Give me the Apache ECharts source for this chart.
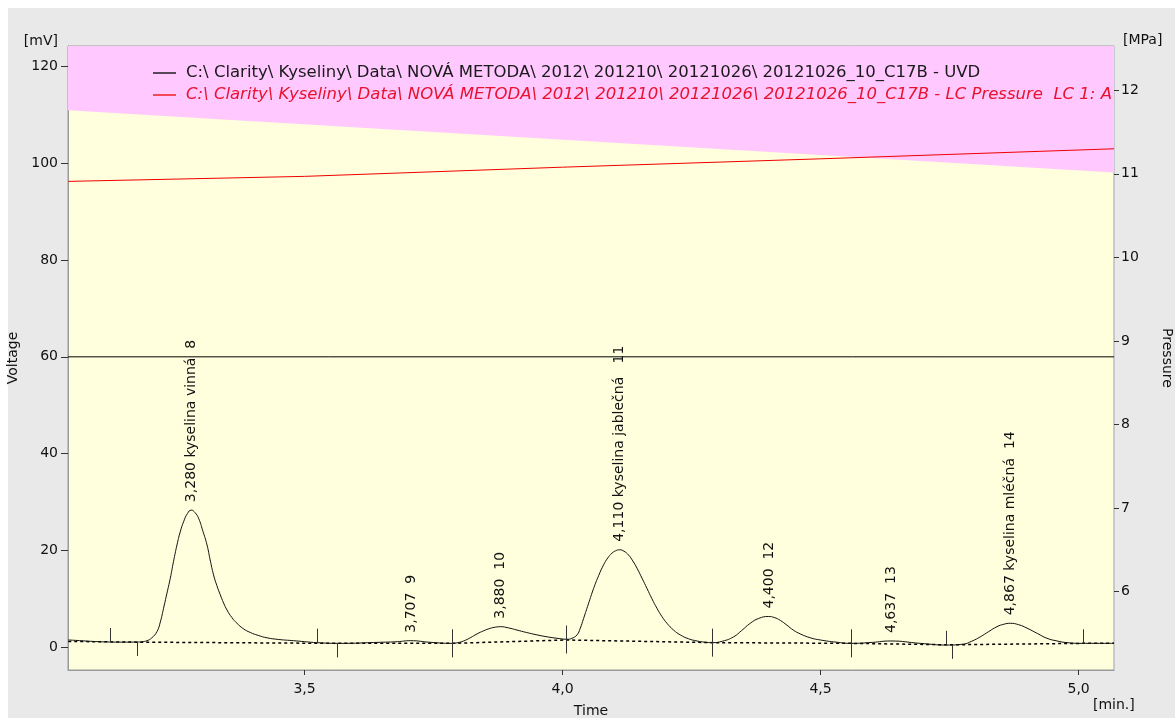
<!DOCTYPE html>
<html>
<head>
<meta charset="utf-8">
<script src="https://cdn.jsdelivr.net/npm/echarts@6/dist/echarts.min.js"></script>
<style>
html,body{margin:0;padding:0;background:#fff;}
#chart{width:1175px;height:718px;background:linear-gradient(#E9E9E9,#E9E9E9) 8px 8px / 1167px 710px no-repeat,#fff;}
</style>
</head>
<body>
<div id="chart"></div>
<script>
// ---- data ----
const uvdName = 'C:\\ Clarity\\ Kyseliny\\ Data\\ NOVÁ METODA\\ 2012\\ 201210\\ 20121026\\ 20121026_10_C17B - UVD';
const pressureName = 'C:\\ Clarity\\ Kyseliny\\ Data\\ NOVÁ METODA\\ 2012\\ 201210\\ 20121026\\ 20121026_10_C17B - LC Pressure  LC 1: A';

const timeRange = [3.0415, 5.0686];
const voltageRange = [-4.76, 124.28];
const pressureRange = [5.063, 12.53];

const xTicks = [3.5, 4.0, 4.5, 5.0];
const voltageTicks = [0, 20, 40, 60, 80, 100, 120];
const pressureTicks = [6, 7, 8, 9, 10, 11, 12];

const uvdTimes = [3.042,3.059,3.09,3.122,3.15,3.1752,3.185,3.1946,3.204,3.214,3.2205,3.2267,3.233,3.2397,3.246,3.2527,3.259,3.2655,3.273,3.2804,3.2875,3.2946,3.3025,3.3109,3.317,3.3236,3.33,3.3366,3.343,3.3496,3.359,3.369,3.381,3.3948,3.41,3.4271,3.45,3.4787,3.50,3.524,3.5653,3.6467,3.68,3.7048,3.7436,3.7857,3.797,3.8081,3.821,3.8341,3.847,3.8599,3.87,3.8793,3.895,3.9116,3.93,3.9504,3.97,3.9891,4.0085,4.018,4.0279,4.034,4.0407,4.05,4.0601,4.07,4.0795,4.0875,4.0957,4.103,4.1105,4.119,4.1279,4.136,4.1442,4.154,4.1636,4.173,4.1829,4.1925,4.2023,4.215,4.2281,4.244,4.2605,4.275,4.2895,4.31,4.3314,4.347,4.3637,4.38,4.3992,4.41,4.4219,4.4349,4.447,4.4607,4.48,4.4994,4.53,4.5595,4.60,4.6351,4.6932,4.745,4.7771,4.793,4.8095,4.826,4.8418,4.855,4.8676,4.884,4.90,4.92,4.9387,4.958,4.9775,5.0078,5.0686];
const uvdValues = [1.45,1.35,1.15,1.03,1.0,1.03,1.1,1.3,1.9,3.2,5.2,8.0,11.0,14.2,17.7,21.1,23.8,25.9,27.6,28.3,27.8,26.6,24.1,21.1,18.0,14.9,12.7,10.8,9.1,7.65,6.1,4.9,3.8,3.0,2.4,1.9,1.55,1.3,1.1,0.9,0.75,0.97,1.1,1.3,0.97,0.75,0.9,1.24,1.9,2.7,3.35,3.86,4.1,4.2,3.95,3.5,3.0,2.5,2.1,1.8,1.6,1.8,2.5,3.8,5.9,8.9,12.1,14.8,17.0,18.4,19.4,19.9,20.1,19.8,19.0,17.8,16.3,14.2,12.1,10.0,8.0,6.3,4.9,3.5,2.5,1.7,1.24,1.0,0.9,1.2,2.1,3.4,4.9,5.9,6.3,6.1,5.5,4.5,3.5,2.7,1.9,1.45,1.0,0.75,0.95,1.24,0.75,0.4,0.6,1.2,2.1,3.2,4.2,4.7,4.9,4.6,3.9,2.8,1.8,1.25,0.9,0.75,0.75];

const baselineTimes = [3.042,3.175,3.56,3.786,4.007,4.29,4.56,4.75,5.008,5.0686];
const baselineValues = [1.15,1.0,0.75,0.75,1.45,0.9,0.75,0.45,0.75,0.75];

const pressureTimes = [3.042,3.5,4.0,4.5,5.0686];
const pressureValues = [10.91,10.97,11.08,11.18,11.30];

const limitTimes = [3.0415,5.0686];
const limitValues = [111.0,98.1];

const refLineTimes = [3.0415,5.0686];
const refLineValues = [60,60];

const peakTimes = [3.280,3.707,3.880,4.110,4.400,4.637,4.867];
const peakHeights = [28.3,1.3,4.2,20.1,6.3,1.24,4.9];
const peakLabels = ['3,280 kyselina vinná  8','3,707  9','3,880  10','4,110 kyselina jablečná   11','4,400  12','4,637  13','4,867 kyselina mléčná  14'];

const markTimes = [3.122,3.1752,3.524,3.5628,3.7857,4.0066,4.2895,4.5595,4.7436,4.7539,5.0078];
const markLevels = [1.03,1.03,0.9,0.75,0.75,1.55,0.9,0.75,0.45,0.45,0.75];
const markDirs = [1,-1,1,-1,0,0,0,0,1,-1,1];

// ---- build ----
const zip = (a,b) => a.map((v,i)=>[v,b[i]]);
const FONT = "'DejaVu Sans', 'Noto Sans', sans-serif";
const comma = v => String(Number(v).toFixed(1)).replace('.', ',');

const chart = echarts.init(document.getElementById('chart'), null, {renderer:'canvas'});
chart.setOption({
  animation:false,
  backgroundColor:'transparent',
  textStyle:{fontFamily:FONT},
  grid:{left:68,right:61,top:46,bottom:48,outerBoundsMode:'none',containLabel:false,show:true,backgroundColor:'#FFFFDD',borderColor:'#9a9a9a',borderWidth:1},
  legend:{
    orient:'vertical',left:153,top:62,padding:0,itemGap:0,itemWidth:23,itemHeight:1.3,icon:'rect',
    selectedMode:false,
    textStyle:{fontFamily:FONT,fontSize:16.5,lineHeight:22,padding:[0,0,0,5]},
    data:[
      {name:uvdName,textStyle:{color:'#1a1a1a'}},
      {name:pressureName,textStyle:{color:'#E8122E',fontStyle:'italic'}}
    ]
  },
  xAxis:{
    type:'value',min:timeRange[0],max:timeRange[1],
    name:'Time',nameLocation:'middle',nameGap:34,
    nameTextStyle:{fontFamily:FONT,fontSize:14,color:'#111'},
    axisLine:{show:true,onZero:false,lineStyle:{color:'#9a9a9a'}},
    axisTick:{show:true,length:5,customValues:xTicks,lineStyle:{color:'#333'}},
    axisLabel:{customValues:xTicks,margin:12,fontFamily:FONT,fontSize:14,color:'#111',formatter:comma},
    splitLine:{show:false}
  },
  yAxis:[
    {
      type:'value',min:voltageRange[0],max:voltageRange[1],position:'left',
      name:'Voltage',nameLocation:'middle',nameGap:40,nameRotate:90,
      nameTextStyle:{fontFamily:FONT,fontSize:14,color:'#111'},
      axisLine:{show:true,onZero:false,lineStyle:{color:'#9a9a9a'}},
      axisTick:{show:true,length:7,customValues:voltageTicks,lineStyle:{color:'#333'}},
      axisLabel:{customValues:voltageTicks,margin:10,fontFamily:FONT,fontSize:14,color:'#111'},
      splitLine:{show:false}
    },
    {
      type:'value',min:pressureRange[0],max:pressureRange[1],position:'right',
      name:'Pressure',nameLocation:'middle',nameGap:46,nameRotate:-90,
      nameTextStyle:{fontFamily:FONT,fontSize:14,color:'#111'},
      axisLine:{show:true,onZero:false,lineStyle:{color:'#c8c8d0'}},
      axisTick:{show:true,length:5,customValues:pressureTicks,lineStyle:{color:'#333'}},
      axisLabel:{customValues:pressureTicks,margin:7,fontFamily:FONT,fontSize:14,color:'#111'},
      splitLine:{show:false}
    }
  ],
  graphic:[
    {type:'text',right:1175-58,top:34,style:{text:'[mV]',font:"14px "+FONT,fill:'#111'}},
    {type:'text',left:1123,top:33,style:{text:'[MPa]',font:"14px "+FONT,fill:'#111'}},
    {type:'text',left:1093,top:698,style:{text:'[min.]',font:"14px "+FONT,fill:'#111'}}
  ],
  series:[
    {
      name:'limit',type:'line',data:zip(limitTimes,limitValues),symbol:'none',silent:true,
      lineStyle:{width:0},areaStyle:{color:'#FFC8FF',opacity:1,origin:'end'},z:1
    },
    {
      name:'ref60',type:'line',data:zip(refLineTimes,refLineValues),symbol:'none',silent:true,
      lineStyle:{color:'#000',width:1},z:2
    },
    {
      name:pressureName,type:'line',yAxisIndex:1,data:zip(pressureTimes,pressureValues),symbol:'none',
      color:'#F00000',lineStyle:{color:'#F00000',width:1},z:3
    },
    {
      name:'baseline',type:'line',data:zip(baselineTimes,baselineValues),symbol:'none',silent:true,
      lineStyle:{color:'#000',width:1.5,type:[3,3]},z:3
    },
    {
      name:uvdName,type:'line',data:zip(uvdTimes,uvdValues),symbol:'none',smooth:0.5,
      color:'#000',lineStyle:{color:'#111',width:1},z:4
    },
    {
      name:'marks',type:'custom',silent:true,z:5,
      data:markTimes.map((t,i)=>[t,markLevels[i],markDirs[i]]),
      renderItem:function(params,api){
        const p = api.coord([api.value(0),api.value(1)]);
        const d = api.value(2);
        const y1 = d>=0 ? p[1]-14 : p[1];
        const y2 = d<=0 ? p[1]+14 : p[1];
        return {type:'line',shape:{x1:Math.round(p[0])+0.5,y1:y1,x2:Math.round(p[0])+0.5,y2:y2},style:{stroke:'#333',lineWidth:1}};
      }
    },
    {
      name:'peakLabels',type:'custom',silent:true,z:6,
      data:peakTimes.map((t,i)=>[t,peakHeights[i],i]),
      renderItem:function(params,api){
        const p = api.coord([api.value(0),api.value(1)]);
        return {type:'text',x:p[0],y:p[1]-8,rotation:Math.PI/2,
          style:{text:peakLabels[api.value(2)],font:"14px "+FONT,fill:'#111',align:'left',verticalAlign:'middle'}};
      }
    }
  ]
});
</script>
</body>
</html>
